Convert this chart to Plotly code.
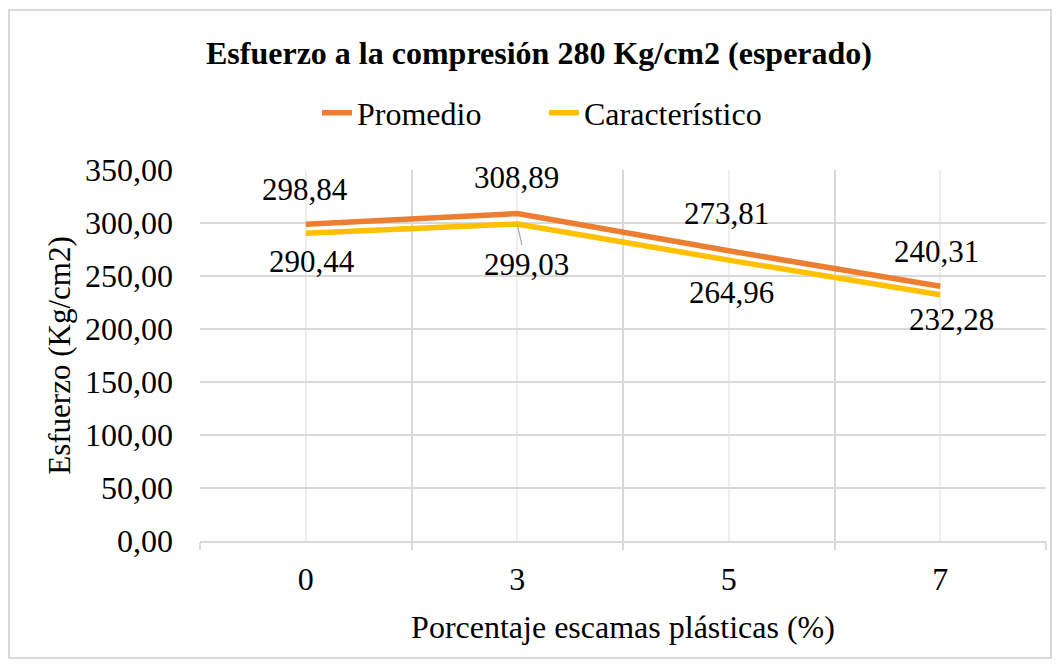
import plotly.graph_objects as go

# datos
porcentajes = ["0", "3", "5", "7"]
promedio = [298.84, 308.89, 273.81, 240.31]
caracteristico = [290.44, 299.03, 264.96, 232.28]

# desplazamientos (px) de las etiquetas de datos
off_prom = [(-1, -35), (-1, -36), (-2, -37), (-4, -35)]
off_car = [(6, 28), (9, 40), (3, 32), (11, 25)]

# la pagina tiene 8 px de margen en el body
O = 8
W, H = 1061 - 2 * O, 668 - 2 * O
ml, mt = 200 - O, 170 - O
mr = W - (1046 - O)
mb = H - (541 - O)
FONT = "Liberation Serif, Times New Roman, serif"

x_pos = list(range(len(porcentajes)))

fig = go.Figure()
fig.add_trace(go.Scatter(x=x_pos, y=promedio, name="Promedio", mode="lines",
                         line=dict(color="#ED7D31", width=5.5)))
fig.add_trace(go.Scatter(x=x_pos, y=caracteristico, name="Característico", mode="lines",
                         line=dict(color="#FFC000", width=5.5)))

annots = []
for serie, offs in ((promedio, off_prom), (caracteristico, off_car)):
    for i, v in enumerate(serie):
        dx, dy = offs[i]
        leader = (serie is caracteristico and i == 1)
        annots.append(dict(x=x_pos[i], y=v, text=f"{v:.2f}".replace(".", ","),
                           showarrow=True, ax=dx, ay=dy, arrowhead=0, arrowwidth=1.2,
                           arrowcolor="#a6a6a6" if leader else "rgba(0,0,0,0)",
                           standoff=0, font=dict(size=31, color="black", family=FONT)))

pw = W - ml - mr
ph = H - mt - mb
fig.add_shape(type="rect", xref="paper", yref="paper",
              x0=(1 - ml) / pw, x1=(W - 2 - ml) / pw,
              y0=1 - (H - 2 - mt) / ph, y1=1 - (2 - mt) / ph,
              line=dict(color="#d9d9d9", width=2), fillcolor="rgba(0,0,0,0)", layer="below")

fig.update_layout(
    width=W, height=H,
    margin=dict(l=ml, r=mr, t=mt, b=mb),
    paper_bgcolor="white", plot_bgcolor="white",
    separators=",.",
    font=dict(family=FONT, size=32, color="black"),
    title=dict(text="<b>Esfuerzo a la compresión 280 Kg/cm2 (esperado)</b>",
               x=(539 - O) / W, xref="container", y=1 - (53 - O) / H, yanchor="middle",
               font=dict(size=32)),
    legend=dict(orientation="h", x=(544 - O) / W, xanchor="center", xref="container",
                y=1 - (113 - O) / H, yanchor="middle", yref="container",
                font=dict(size=32), entrywidth=182, entrywidthmode="pixels"),
    annotations=annots,
    showlegend=True,
)

fig.update_xaxes(
    range=[-0.5, len(porcentajes) - 0.5],
    tickvals=x_pos, ticktext=porcentajes, ticks="",
    showgrid=True, gridcolor="#eeeeee", gridwidth=1.5, zeroline=False,
    showline=True, linecolor="#d9d9d9", linewidth=2,
    minor=dict(tickmode="linear", tick0=0.5, dtick=1, ticks="outside", ticklen=7,
               tickcolor="#d9d9d9", tickwidth=1.5, showgrid=True,
               gridcolor="#d9d9d9", gridwidth=1.5),
    ticklabelstandoff=9,
    title=dict(text="Porcentaje escamas plásticas (%)", standoff=19, font=dict(size=32)),
)
fig.update_yaxes(
    range=[0, 350], dtick=50, tickformat=".2f",
    showgrid=True, gridcolor="#d9d9d9", gridwidth=1.5,
    zeroline=True, zerolinecolor="#d9d9d9", zerolinewidth=2,
    ticks="", ticklabelstandoff=26,
    title=dict(text="Esfuerzo (Kg/cm2)", standoff=5, font=dict(size=31)),
)

fig.write_html("out.html")
